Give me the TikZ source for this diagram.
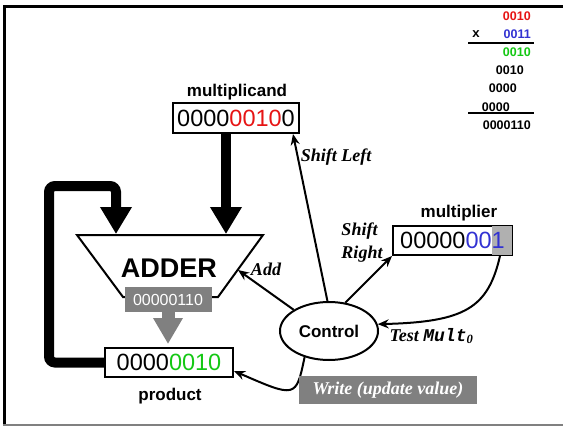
\documentclass[tikz,border=0pt]{standalone}
\usepackage{fontspec}
\setmainfont{Liberation Serif}
\setsansfont{Liberation Sans}
\setmonofont{Liberation Mono}
\usetikzlibrary{arrows.meta,shapes.geometric,calc}
\definecolor{bitred}{RGB}{230,20,20}
\definecolor{bitblue}{RGB}{50,50,210}
\definecolor{bitgreen}{RGB}{20,200,20}
\definecolor{boxgray}{RGB}{128,128,128}
\definecolor{hilite}{RGB}{176,176,176}

\begin{document}
\begin{tikzpicture}[x=1pt,y=-1pt,
    reg/.style={draw,line width=2pt,minimum width=126pt,minimum height=30pt,inner sep=0pt,
      font=\sffamily\fontsize{23.5}{23.5}\selectfont},
    lbl/.style={font=\sffamily\bfseries\fontsize{17}{17}\selectfont},
    act/.style={font=\bfseries\itshape\fontsize{18}{23}\selectfont},
    ctl/.style={line width=2pt,-{Stealth[length=11pt,width=9pt]}},
    bus/.style={line width=10pt,-{Triangle[width=30pt,length=27pt]}},
    bits/.style={anchor=east,inner sep=0pt,font=\sffamily\bfseries\fontsize{12.5}{12.5}\selectfont}]
  \useasboundingbox (0,0) rectangle (563,426);
  % frame
  \draw[line width=3pt] (3,6.5) -- (563,6.5);
  \draw[line width=3pt] (4.5,5) -- (4.5,426);
  \draw[line width=1.5pt,gray] (3,425) -- (563,425);

  % worked example
  \node[bits,text=bitred] (r1) at (531,16) {0010};
  \node[font=\ttfamily\bfseries\fontsize{13}{13}\selectfont,inner sep=0pt] (times) at (476,34) {x};
  \node[bits,text=bitblue] (r2) at (531,34) {0011};
  \draw[line width=2.5pt] (468,43) -- (534,43);
  \node[bits,text=bitgreen] (r3) at (531,52) {0010};
  \node[bits] (r4) at (524,70) {0010};
  \node[bits] (r5) at (517,88) {0000};
  \node[bits] (r6) at (510,107) {0000};
  \draw[line width=2.5pt] (468,113) -- (534,113);
  \node[bits] (r7) at (531,125) {0000110};

  % registers
  \node[lbl] (mcandlbl) at (237,92) {multiplicand};
  \node[reg] (mcand) at (236,118) {0000\textcolor{bitred}{0010}0};
  \node[lbl] (mplierlbl) at (459,213) {multiplier};
  \node[reg,minimum width=119pt,minimum height=29pt] (mplier) at (452.5,240.5) {};
  \fill[hilite] ($(mplier.north east)+(-21,1)$) rectangle ($(mplier.south east)+(-1,-1)$);
  \node[font=\sffamily\fontsize{23.5}{23.5}\selectfont,inner sep=0pt] (mpliertxt) at (mplier) {00000\textcolor{bitblue}{001}};
  \node[reg,minimum width=128pt,minimum height=29pt] (prod) at (169,362.5) {0000\textcolor{bitgreen}{0010}};
  \node[lbl] (prodlbl) at (170,396) {product};

  % adder
  \draw[line width=2pt] (77,235) -- (263,235) -- (218,297) -- (123,297) -- cycle;
  \node[font=\sffamily\bfseries\fontsize{27}{27}\selectfont] (adder) at (169,268) {ADDER};
  \node[fill=boxgray,text=white,minimum width=87pt,minimum height=25pt,inner sep=0pt,
    font=\sffamily\fontsize{16}{16}\selectfont] (sum) at (168,299.5) {00000110};
  \coordinate (addA) at (116,234);
  \coordinate (addB) at (226,234);
  \coordinate (addC) at (238,270);
  \coordinate (sumtip) at (168,344);

  % data paths
  \draw[bus] ($(mcand.south)+(-10,0)$) -- (addB);
  \draw[bus,rounded corners=6pt] (prod.west) -- (49,362.5) -- (49,186) -- (116,186) -- (addA);
  \draw[boxgray,line width=13pt,-{Triangle[width=28pt,length=26pt]}] (sum.south) -- (sumtip);

  % control
  \node[draw,ellipse,line width=2pt,minimum width=98pt,minimum height=58pt,inner sep=0pt,lbl] (ctrl) at (329,331) {Control};
  \draw[ctl] (ctrl.149) -- (addC);
  \draw[ctl] (ctrl.93) -- ($(mcand.south east)+(-7,0)$);
  \draw[ctl] (ctrl.60) -- (mplier.south west);
  \draw[ctl] ($(mplier.south east)+(-13,0)$) .. controls (488,308) and (465,322) .. (ctrl.8);
  \draw[ctl] (ctrl.227) .. controls (296,398) .. ($(prod.south east)+(0,-7)$);

  \node[act] (addlbl) at (266,269) {Add};
  \node[act] (sllbl) at (336,157) {Shift Left};
  \node[act,align=left] (srlbl) at (362,243) {Shift\\Right};
  \node[act,anchor=west] (tmlbl) at (386,336) {Test \texttt{Mult}\textsubscript{\textit{0}}};
  \node[act,fill=boxgray,text=white,minimum width=178pt,minimum height=28pt,
    font=\bfseries\itshape\fontsize{18}{18}\selectfont] (wrlbl) at (388,390) {Write (update value)};
\end{tikzpicture}
\end{document}
